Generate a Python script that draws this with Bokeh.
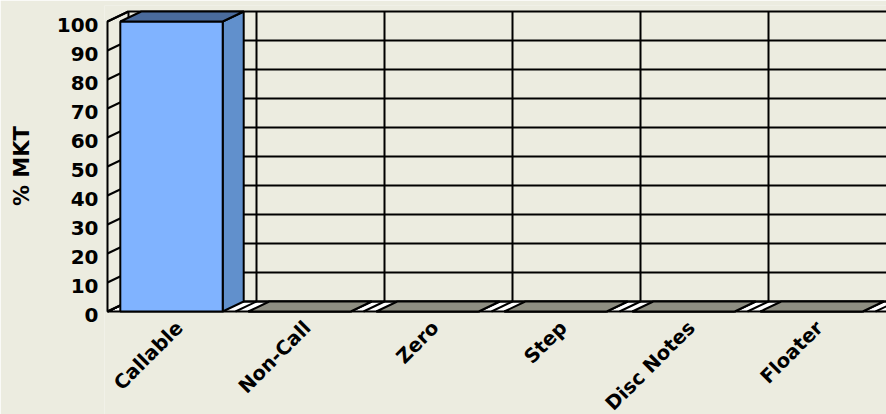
import math
from bokeh.plotting import figure
from bokeh.models import Range1d, FixedTicker, ColumnDataSource
from bokeh.core.properties import value
from bokeh.embed import file_html
from bokeh.resources import INLINE

# ---------------- data ----------------
categories = ["Callable", "Non-Call", "Zero", "Step", "Disc Notes", "Floater"]
values = [100, 0, 0, 0, 0, 0]
y_ticks = [0, 10, 20, 30, 40, 50, 60, 70, 80, 90, 100]
y_title = "% MKT"

# ---------------- styles / geometry ----------------
BG = "#ECECE0"
FLOOR = "#FFFFFF"
FRONT = "#80B3FF"
SIDE = "#6190CC"
TOP = "#4A6B9C"
ZERO_TOP = "#8E8E82"
LINE = "#000000"
FONT = "DejaVu Sans"

W, H = 886, 414
ORIGIN_X, ORIGIN_Y = 107.0, 311.0   # screen position of (category 0 front, value 0)
PX_CAT = 128.0      # pixels per category
PX_UNIT = 2.9       # pixels per value unit
DEPTH_X, DEPTH_Y = 21.0, 10.0   # 3-D depth offset in pixels
BORDER_LEFT, BORDER_TOP = 104, 5
YLABEL_DROP_PX = 3.0    # tick labels sit slightly below their grid line
XLABEL_SHIFT_PX = 8.0   # category labels: right end offset from bar centre
XLABEL_GAP_PX = 13.0    # category labels: distance below the floor
TITLE_FONT_PX = 21.0
SPACE_EM = 0.348        # width of a (no-break) space in DejaVu Sans Bold

ddx = DEPTH_X / PX_CAT
ddy = DEPTH_Y / PX_UNIT
n = len(categories)
vmax = max(y_ticks)

x_min = -(ORIGIN_X - BORDER_LEFT) / PX_CAT
x_max = x_min + (W - BORDER_LEFT) / PX_CAT
y_min = -(H - ORIGIN_Y) / PX_UNIT
y_max = y_min + (H - BORDER_TOP) / PX_UNIT

p = figure(width=W, height=H, output_backend="svg", toolbar_location=None,
           x_range=Range1d(x_min, x_max), y_range=Range1d(y_min, y_max),
           x_axis_location=None,
           min_border_left=BORDER_LEFT, min_border_right=0,
           min_border_top=BORDER_TOP, min_border_bottom=0,
           background_fill_color=BG, border_fill_color=BG)
p.outline_line_color = None
p.xgrid.visible = False
p.ygrid.visible = False

# ---- floor ----
p.patch([0, x_max + 1, x_max + 1 + ddx, ddx], [0, 0, ddy, ddy],
        fill_color=FLOOR, line_color=LINE, line_width=2)
p.segment(x0=list(range(n + 1)), y0=[0] * (n + 1),
          x1=[i + ddx for i in range(n + 1)], y1=[ddy] * (n + 1),
          line_color=LINE, line_width=2)

# ---- back wall grid ----
p.segment(x0=[ddx] * len(y_ticks), y0=[v + ddy for v in y_ticks],
          x1=[x_max + 1] * len(y_ticks), y1=[v + ddy for v in y_ticks],
          line_color=LINE, line_width=2)
p.segment(x0=[i + ddx for i in range(1, n + 1)], y0=[ddy] * n,
          x1=[i + ddx for i in range(1, n + 1)], y1=[vmax + ddy] * n,
          line_color=LINE, line_width=2)

# ---- left wall ----
p.patch([0, ddx, ddx, 0], [0, ddy, vmax + ddy, vmax],
        fill_color=BG, line_color=LINE, line_width=2)
p.segment(x0=[0] * len(y_ticks), y0=y_ticks,
          x1=[ddx] * len(y_ticks), y1=[v + ddy for v in y_ticks],
          line_color=LINE, line_width=2)

# ---- bars ----
gap = 0.1
front_xs, front_ys, side_xs, side_ys, top_xs, top_ys, top_cols = [], [], [], [], [], [], []
for i, v in enumerate(values):
    a, b = i + gap, i + 1 - gap
    front_xs.append([a, b, b, a]); front_ys.append([0, 0, v, v])
    side_xs.append([b, b + ddx, b + ddx, b]); side_ys.append([0, ddy, v + ddy, v])
    top_xs.append([a, b, b + ddx, a + ddx]); top_ys.append([v, v, v + ddy, v + ddy])
    top_cols.append(TOP if v > 0 else ZERO_TOP)

p.patches(xs=side_xs, ys=side_ys, fill_color=SIDE, line_color=LINE, line_width=2)
p.patches(xs=front_xs, ys=front_ys, fill_color=FRONT, line_color=LINE, line_width=2)
p.patches(source=ColumnDataSource(dict(xs=top_xs, ys=top_ys, c=top_cols)),
          xs="xs", ys="ys", fill_color="c", line_color=LINE, line_width=2)

# ---- category labels (rotated, under the floor) ----
p.text(x=[i + 0.5 + XLABEL_SHIFT_PX / PX_CAT for i in range(n)],
       y=[-XLABEL_GAP_PX / PX_UNIT] * n, text=categories,
       angle=math.pi / 4, text_align="right", text_baseline="middle",
       text_font=value(FONT), text_font_style="bold",
       text_font_size="19.5px", text_color="#000000")

# ---- y axis ----
y_pos = [v - YLABEL_DROP_PX / PX_UNIT for v in y_ticks]
yax = p.yaxis[0]
yax.ticker = FixedTicker(ticks=y_pos)
yax.major_label_overrides = {yp: str(v) for yp, v in zip(y_pos, y_ticks)}
yax.axis_line_color = None
yax.major_tick_line_color = None
yax.minor_tick_line_color = None
yax.major_tick_out = 0
yax.major_label_standoff = 6
yax.major_label_text_font = FONT
yax.major_label_text_font_style = "bold"
yax.major_label_text_font_size = "20px"
yax.major_label_text_color = "#000000"

# axis title: Bokeh centres it on the whole frame; pad it with no-break spaces
# so that it is centred on the value range (0..100) instead.
frame_mid_px = (H + BORDER_TOP) / 2.0
range_mid_px = ORIGIN_Y - (min(y_ticks) + vmax) / 2.0 * PX_UNIT
n_pad = int(round(2 * (frame_mid_px - range_mid_px) / (SPACE_EM * TITLE_FONT_PX)))
yax.axis_label = "\u00a0" * n_pad + y_title
yax.axis_label_text_font = FONT
yax.axis_label_text_font_style = "bold"
yax.axis_label_text_font_size = f"{TITLE_FONT_PX:g}px"
yax.axis_label_text_color = "#000000"
yax.axis_label_standoff = 20

open("out.html", "w").write(file_html(p, INLINE))
